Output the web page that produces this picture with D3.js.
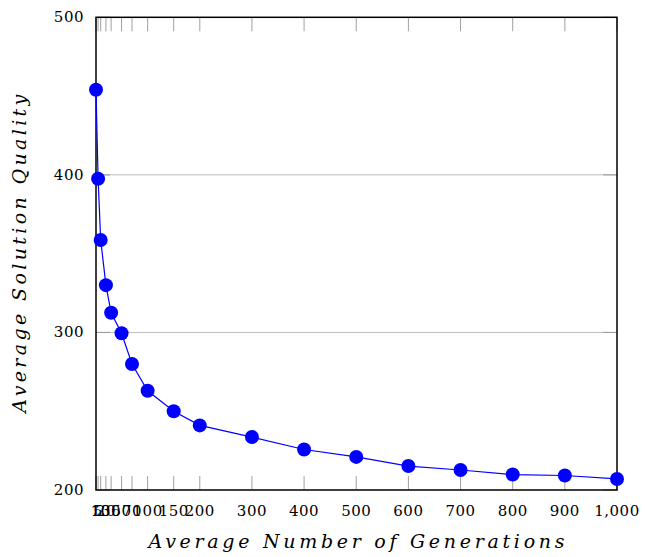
<!DOCTYPE html>
<html>
<head>
<meta charset="utf-8">
<script src="https://cdn.jsdelivr.net/npm/d3@7"></script>
<style>
  body { margin: 0; background: #fff; }
  text { font-family: "DejaVu Serif", "Liberation Serif", serif; }
</style>
</head>
<body>
<div id="chart"></div>
<script>
var generations = [1, 5, 10, 20, 30, 50, 70, 100, 150, 200, 300, 400, 500, 600, 700, 800, 900, 1000];
var quality = [454, 397.5, 358.7, 330, 312.5, 299.5, 280, 263, 250, 241, 233.6, 225.7, 221, 215.2, 212.7, 209.8, 209.2, 207];
var yTicks = [200, 300, 400, 500];

var width = 645, height = 557;
var m = { left: 96, right: 28, top: 17.3, bottom: 67 };

var svg = d3.select("#chart").append("svg")
  .attr("width", width)
  .attr("height", height);

var x = d3.scaleLinear().domain([1, 1000]).range([m.left, width - m.right]);
var y = d3.scaleLinear().domain([200, 500]).range([height - m.bottom, m.top]);

var x0 = x.range()[0], x1 = x.range()[1], y0 = y.range()[0], y1 = y.range()[1];
var tickLen = 14;

// horizontal grid lines
svg.append("g")
  .selectAll("line")
  .data(yTicks.filter(function(d) { return d > 200 && d < 500; }))
  .enter()
  .append("line")
  .attr("x1", x0).attr("x2", x1)
  .attr("y1", function(d) { return y(d); })
  .attr("y2", function(d) { return y(d); })
  .style("stroke", "#bdbdbd")
  .style("stroke-width", 1);

// y ticks, both sides
var yt = svg.append("g");
yTicks.forEach(function(d) {
  yt.append("line").attr("x1", x0).attr("x2", x0 + tickLen)
    .attr("y1", y(d)).attr("y2", y(d))
    .style("stroke", "#999").style("stroke-width", 1);
  yt.append("line").attr("x1", x1).attr("x2", x1 - tickLen)
    .attr("y1", y(d)).attr("y2", y(d))
    .style("stroke", "#999").style("stroke-width", 1);
});

// x ticks, top and bottom
var xt = svg.append("g");
generations.forEach(function(d) {
  xt.append("line").attr("x1", x(d)).attr("x2", x(d))
    .attr("y1", y0).attr("y2", y0 - tickLen)
    .style("stroke", "#a0a0a0").style("stroke-width", 1);
  xt.append("line").attr("x1", x(d)).attr("x2", x(d))
    .attr("y1", y1).attr("y2", y1 + tickLen)
    .style("stroke", "#a0a0a0").style("stroke-width", 1);
});

// frame
svg.append("rect")
  .attr("x", x0).attr("y", y1)
  .attr("width", x1 - x0).attr("height", y0 - y1)
  .style("fill", "none")
  .style("stroke", "#000")
  .style("stroke-width", 1.5);

// tick labels
svg.append("g")
  .selectAll("text")
  .data(yTicks)
  .enter()
  .append("text")
  .attr("x", x0 - 12)
  .attr("y", function(d) { return y(d) + 5; })
  .attr("text-anchor", "end")
  .style("font-size", "15px")
  .style("letter-spacing", "0.5px")
  .text(function(d) { return d; });

svg.append("g")
  .selectAll("text")
  .data(generations)
  .enter()
  .append("text")
  .attr("x", function(d) { return x(d); })
  .attr("y", y0 + 26)
  .attr("text-anchor", "middle")
  .style("font-size", "15px")
  .style("letter-spacing", "0.5px")
  .text(function(d) { return d3.format(",")(d); });

// line + markers
var line = d3.line()
  .x(function(d, i) { return x(generations[i]); })
  .y(function(d) { return y(d); });

svg.append("path")
  .datum(quality)
  .attr("d", line)
  .style("fill", "none")
  .style("stroke", "#0000ff")
  .style("stroke-width", 1.2);

svg.append("g")
  .selectAll("circle")
  .data(quality)
  .enter()
  .append("circle")
  .attr("cx", function(d, i) { return x(generations[i]); })
  .attr("cy", function(d) { return y(d); })
  .attr("r", 7)
  .style("fill", "#0000ff");

// axis titles
svg.append("text")
  .attr("x", (x0 + x1) / 2)
  .attr("y", 548)
  .attr("text-anchor", "middle")
  .attr("textLength", 416)
  .style("font-size", "19px")
  .style("font-style", "italic")
  .text("Average Number of Generations");

svg.append("text")
  .attr("transform", "translate(26," + ((y0 + y1) / 2) + ") rotate(-90)")
  .attr("text-anchor", "middle")
  .attr("textLength", 318)
  .style("font-size", "19px")
  .style("font-style", "italic")
  .text("Average Solution Quality");
</script>
</body>
</html>
